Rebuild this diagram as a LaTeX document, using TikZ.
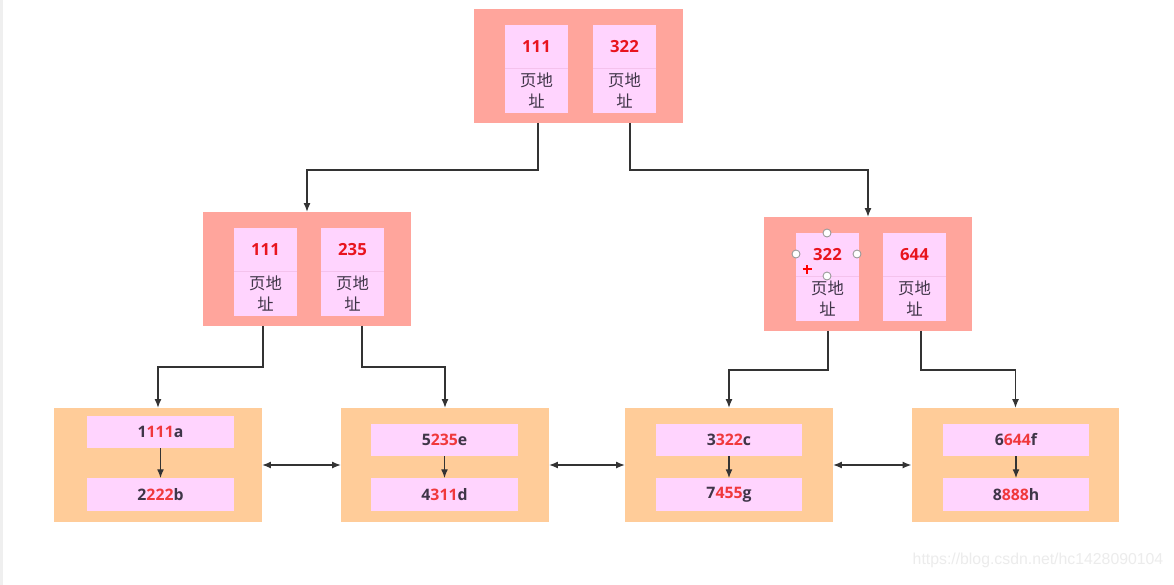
\documentclass[tikz,border=0pt]{standalone}
\usepackage{fontspec}
\setmainfont{Open Sans}
\newfontfamily\cjk{Noto Sans CJK SC}
\newfontfamily\wmfont{Liberation Sans}
\usetikzlibrary{arrows.meta,calc}
\definecolor{cSalmon}{HTML}{FFA59C}
\definecolor{cPink}{HTML}{FFD4FE}
\definecolor{cPeach}{HTML}{FFCC99}
\definecolor{cDark}{HTML}{3F3548}
\definecolor{cRed}{HTML}{E8141E}
\definecolor{cRedL}{HTML}{F0383C}
\definecolor{cLine}{HTML}{333333}
\definecolor{cDiv}{HTML}{F4C2EC}
\definecolor{cStrip}{HTML}{EFEFEF}
\definecolor{cWm}{HTML}{ECECEC}
\tikzset{
  inode/.style={fill=cSalmon, inner sep=0, outer sep=0, minimum width=4.18cm, minimum height=2.28cm},
  pg/.style={fill=cPink, inner sep=0, outer sep=0, minimum width=1.26cm, minimum height=1.76cm},
  num/.style={inner sep=0, text=cRed, font=\bfseries\fontsize{9.5}{11}\selectfont},
  cjkt/.style={inner sep=0, align=center, text=cDark, font=\cjk\fontsize{9.3}{11.4}\selectfont},
  divline/.style={draw=cDiv, line width=0.5pt},
  leafbox/.style={fill=cPeach, inner sep=0, outer sep=0, minimum width=4.16cm, minimum height=2.28cm},
  rec/.style={fill=cPink, inner sep=0, outer sep=0, minimum width=2.94cm, minimum height=0.65cm, text=cDark, font=\bfseries\fontsize{9}{10}\selectfont},
  conn/.style={draw=cLine, line width=0.8pt, -{Latex[length=1.8mm,width=1.4mm]}},
  dconn/.style={draw=cLine, line width=0.8pt, {Latex[length=1.8mm,width=1.4mm]}-{Latex[length=1.8mm,width=1.4mm]}},
  handle/.style={draw=gray!80, fill=white, line width=0.5pt},
  wm/.style={inner sep=0, text=cWm, font=\wmfont\fontsize{9}{10}\selectfont}
}
\newcommand\mkpage[4]{%
  \node[pg] (#1) at (#2,#3) {};
  \draw[divline] ([yshift=-0.87cm]#1.north west) -- ([yshift=-0.87cm]#1.north east);
  \node[num] (#1n) at ([yshift=-0.44cm]#1.north) {#4};
  \node[cjkt] (#1t) at ([yshift=-1.31cm]#1.north) {页地\\址};
}
\newcommand\rtxt[3]{\textcolor{cDark}{#1}\textcolor{cRedL}{#2}\textcolor{cDark}{#3}}
\begin{document}
\begin{tikzpicture}[x=0.02cm,y=-0.02cm]
\fill[white] (0,0) rectangle (1174,585);
\fill[cStrip] (0,0) rectangle (3,585);
\useasboundingbox (0,0) rectangle (1174,585);

% internal nodes
\node[inode] (root) at (578.5,66) {};
\mkpage{rootA}{536.5}{69}{111}
\mkpage{rootB}{624.5}{69}{322}
\node[inode] (midL) at (307,269) {};
\mkpage{midLA}{265.5}{272}{111}
\mkpage{midLB}{352.5}{272}{235}
\node[inode] (midR) at (868,274) {};
\mkpage{midRA}{827.5}{277}{322}
\mkpage{midRB}{914.5}{277}{644}

% leaves
\node[leafbox] (leafA) at (158,465) {};
\node[rec] (leafA1) at (160.5,432) {\rtxt{1}{111}{a}};
\node[rec] (leafA2) at (160.5,494.5) {\rtxt{2}{222}{b}};
\node[leafbox] (leafB) at (445,465) {};
\node[rec] (leafB1) at (444.5,440) {\rtxt{5}{235}{e}};
\node[rec] (leafB2) at (444.5,494.5) {\rtxt{4}{311}{d}};
\node[leafbox] (leafC) at (729,465) {};
\node[rec] (leafC1) at (729,440) {\rtxt{3}{322}{c}};
\node[rec] (leafC2) at (729,494.5) {\rtxt{7}{455}{g}};
\node[leafbox] (leafD) at (1015.5,465) {};
\node[rec] (leafD1) at (1016,440) {\rtxt{6}{644}{f}};
\node[rec] (leafD2) at (1016,494.5) {\rtxt{8}{888}{h}};

% tree connectors
\draw[conn] ([xshift=-0.81cm]root.south) -- ++(0,47) -| (midL.north);
\draw[conn] ([xshift=1.03cm]root.south) -- ++(0,47) -| (midR.north);
\draw[conn] ([xshift=-0.88cm]midL.south) -- ++(0,41) -| (leafA.north);
\draw[conn] ([xshift=1.1cm]midL.south) -- ++(0,41) -| (leafB.north);
\draw[conn] ([xshift=-0.8cm]midR.south) -- ++(0,39) -| (leafC.north);
\draw[conn] ([xshift=1.06cm]midR.south) -- ++(0,39) -| (leafD.north);

% leaf links
\draw[dconn] (leafA.east) -- (leafB.west);
\draw[dconn] (leafB.east) -- (leafC.west);
\draw[dconn] (leafC.east) -- (leafD.west);

% record links
\draw[conn] (leafA1.south) -- (leafA2.north);
\draw[conn] (leafB1.south) -- (leafB2.north);
\draw[conn] (leafC1.south) -- (leafC2.north);
\draw[conn] (leafD1.south) -- (leafD2.north);

% selection handles
\coordinate (hT) at (827,233);
\coordinate (hL) at (796,254);
\coordinate (hR) at (857,254);
\coordinate (hB) at (827,276);
\coordinate (hP) at (807,269);
\foreach \h in {hT,hL,hR,hB} \draw[handle] (\h) circle[radius=0.08cm];
\draw[red, line width=1pt] ([xshift=-0.09cm]hP) -- ([xshift=0.09cm]hP) ([yshift=-0.09cm]hP) -- ([yshift=0.09cm]hP);

% watermark
\node[wm] (wmark) at (1038,560) {https://blog.csdn.net/hc1428090104};
\end{tikzpicture}
\end{document}
